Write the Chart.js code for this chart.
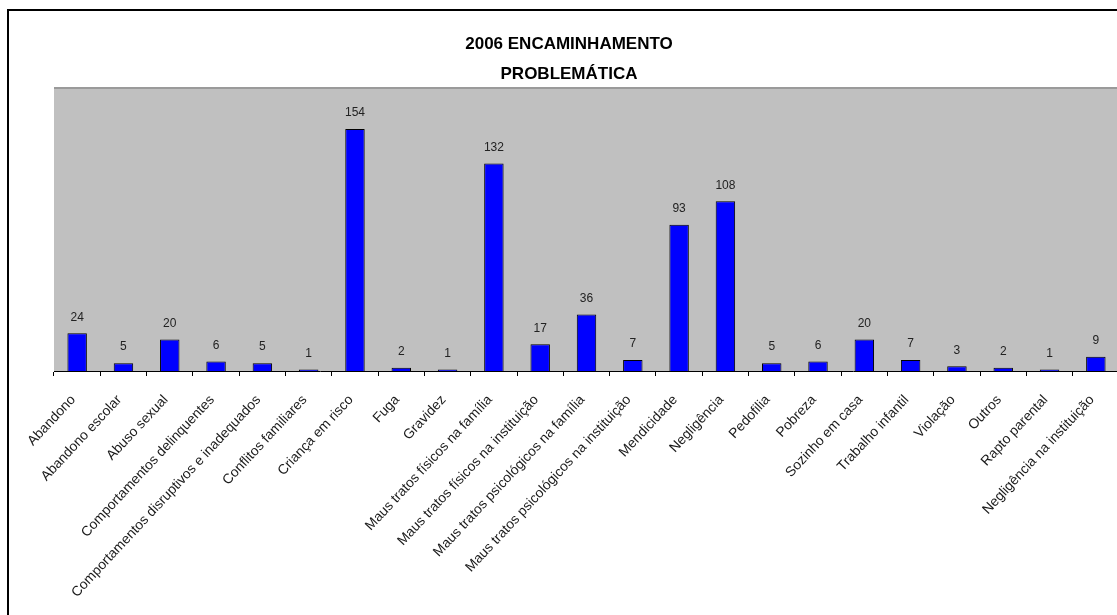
<!DOCTYPE html>
<html lang="pt">
<head>
<meta charset="utf-8">
<title>2006 Encaminhamento - Problemática</title>
<script src="https://cdn.jsdelivr.net/npm/chart.js@4.4.1/dist/chart.umd.min.js"></script>
<style>
  body { margin: 0; background: #fff; overflow: hidden; }
  .moldura {
    position: absolute; left: 7px; top: 9px; width: 1200px; height: 700px;
    border-left: 2px solid #000; border-top: 2px solid #000;
  }
  .area { position: absolute; left: 0; top: 0; width: 1120px; height: 615px; }
  .titulo {
    position: absolute; left: 0; width: 1138px; text-align: center;
    font: bold 17px "Liberation Sans", Arial, sans-serif; color: #000;
  }
</style>
</head>
<body>
<div class="moldura"></div>
<div class="area"><canvas id="grafico" width="1120" height="615"></canvas></div>
<div class="titulo" style="top:34px">2006 ENCAMINHAMENTO</div>
<div class="titulo" style="top:64px">PROBLEMÁTICA</div>
<script>
// ===== DADOS =====
const categorias = [
  "Abandono",
  "Abandono escolar",
  "Abuso sexual",
  "Comportamentos delinquentes",
  "Comportamentos disruptivos e inadequados",
  "Conflitos familiares",
  "Criança em risco",
  "Fuga",
  "Gravidez",
  "Maus tratos físicos na família",
  "Maus tratos físicos na instituição",
  "Maus tratos psicológicos na família",
  "Maus tratos psicológicos na instituição",
  "Mendicidade",
  "Negligência",
  "Pedofilia",
  "Pobreza",
  "Sozinho em casa",
  "Trabalho infantil",
  "Violação",
  "Outros",
  "Rapto parental",
  "Negligência na instituição"
];
const valores = [24, 5, 20, 6, 5, 1, 154, 2, 1, 132, 17, 36, 7, 93, 108, 5, 6, 20, 7, 3, 2, 1, 9];

// ===== FUNDO CINZENTO DA ÁREA DO GRÁFICO =====
const fundoArea = {
  id: "fundoArea",
  beforeDraw(chart) {
    const { ctx, chartArea: a } = chart;
    ctx.save();
    ctx.fillStyle = "#c0c0c0";
    ctx.fillRect(a.left, a.top, a.right - a.left, a.bottom - a.top);
    ctx.strokeStyle = "#9a9a9a";
    ctx.lineWidth = 2;
    ctx.beginPath();
    ctx.moveTo(a.left, a.top);
    ctx.lineTo(a.right, a.top);
    ctx.stroke();
    ctx.restore();
  }
};

// ===== VALORES POR CIMA DAS BARRAS =====
const rotulosValores = {
  id: "rotulosValores",
  afterDatasetsDraw(chart) {
    const { ctx } = chart;
    const meta = chart.getDatasetMeta(0);
    ctx.save();
    ctx.font = '12px "Liberation Sans", Arial, sans-serif';
    ctx.fillStyle = "#222";
    ctx.textAlign = "center";
    ctx.textBaseline = "middle";
    meta.data.forEach((barra, i) => {
      ctx.fillText(String(valores[i]), barra.x, barra.y - 16);
    });
    ctx.restore();
  }
};

new Chart(document.getElementById("grafico"), {
  type: "bar",
  data: {
    labels: categorias,
    datasets: [{
      data: valores,
      backgroundColor: "#0000ff",
      borderColor: "#000",
      borderWidth: 1,
      categoryPercentage: 1,
      barPercentage: 0.42
    }]
  },
  options: {
    responsive: false,
    animation: false,
    layout: { padding: { left: 54, top: 88, right: 1, bottom: 0 } },
    plugins: {
      legend: { display: false },
      title: { display: false },
      tooltip: { enabled: false }
    },
    scales: {
      x: {
        offset: true,
        grid: {
          offset: true,
          drawOnChartArea: false,
          tickLength: 5,
          tickColor: "#000"
        },
        border: { color: "#000", width: 1 },
        ticks: {
          autoSkip: false,
          minRotation: 47,
          maxRotation: 47,
          padding: 16,
          labelOffset: -4,
          color: "#1a1a1a",
          font: { family: '"Liberation Sans", Arial, sans-serif', size: 13.8 }
        },
        afterFit(scale) {
          // altura fixa do eixo e sem margens extra para os rótulos rodados
          scale.height = 244;
          scale.paddingLeft = 0;
          scale.paddingRight = 0;
        }
      },
      y: { display: false, min: 0, max: 180 }
    }
  },
  plugins: [fundoArea, rotulosValores]
});
</script>
</body>
</html>
